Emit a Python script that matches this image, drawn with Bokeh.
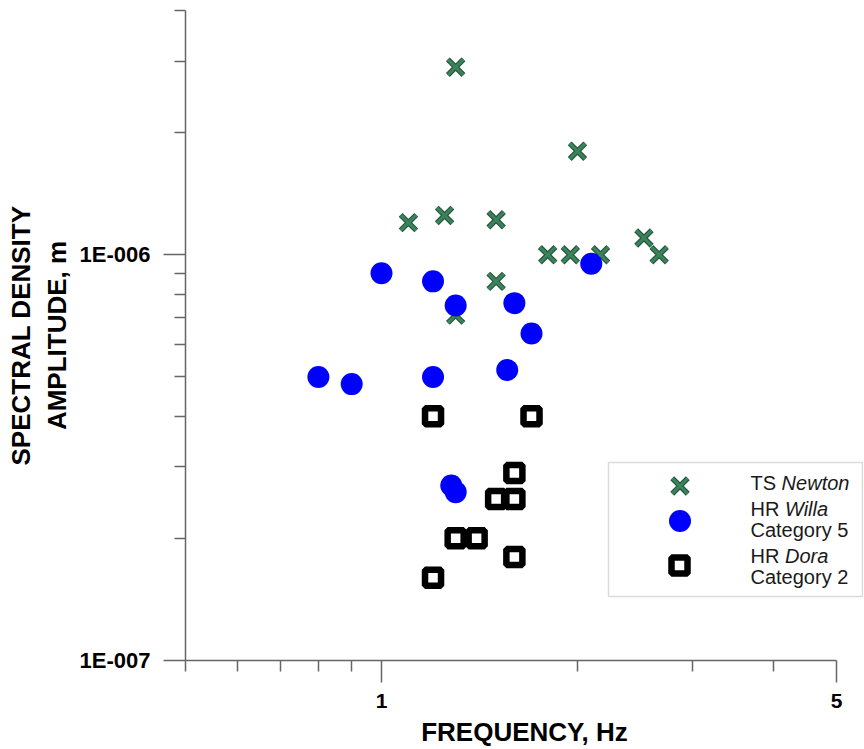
from bokeh.plotting import figure
from bokeh.models import FixedTicker, BoxAnnotation, Legend, LegendItem, Label
from bokeh.embed import file_html
from bokeh.resources import INLINE

# ---- data ----
newton_f = [1.3, 2.0, 1.1, 1.25, 1.5, 1.8, 1.95, 2.17, 2.53, 2.67, 1.5, 1.3]
newton_a = [2.9e-6, 1.8e-6, 1.2e-6, 1.25e-6, 1.22e-6, 1.0e-6, 1.0e-6, 1.0e-6, 1.1e-6, 1.0e-6, 0.86e-6, 0.71e-6]

willa_f = [1.0, 1.2, 1.3, 1.6, 1.7, 2.1, 0.8, 0.9, 1.2, 1.56, 1.28, 1.3]
willa_a = [0.90e-6, 0.86e-6, 0.75e-6, 0.76e-6, 0.64e-6, 0.95e-6, 0.50e-6, 0.48e-6, 0.50e-6, 0.52e-6, 0.27e-6, 0.26e-6]

dora_f = [1.2, 1.7, 1.6, 1.5, 1.6, 1.3, 1.4, 1.6, 1.2]
dora_a = [0.40e-6, 0.40e-6, 0.29e-6, 0.25e-6, 0.25e-6, 0.20e-6, 0.20e-6, 0.18e-6, 0.16e-6]

x_major = [1, 5]
x_minor = [0.5, 0.6, 0.7, 0.8, 0.9, 2, 3, 4]
x_labels = {1: "1", 5: "5"}
x_bounds = (0.5, 5)
y_major = [1e-7, 1e-6]
y_minor = [2e-7, 3e-7, 4e-7, 5e-7, 6e-7, 7e-7, 8e-7, 9e-7, 2e-6, 3e-6, 4e-6]
y_labels = {1e-7: "1E-007", 1e-6: "1E-006"}

FONT = "Liberation Sans"
AXIS_COLOR = "#666666"

p = figure(width=864, height=749, x_axis_type="log", y_axis_type="log",
           x_range=(0.5, 5.50), y_range=(1e-7, 4e-6),
           output_backend="svg", toolbar_location=None,
           min_border_left=185, min_border_right=1, min_border_top=10, min_border_bottom=88)
p.outline_line_color = None
p.grid.visible = False
p.background_fill_color = "white"
p.border_fill_color = "white"

for ax in (p.xaxis[0], p.yaxis[0]):
    ax.axis_line_color = AXIS_COLOR
    ax.axis_line_width = 1.5
    ax.major_tick_line_color = AXIS_COLOR
    ax.major_tick_line_width = 1.5
    ax.minor_tick_line_color = AXIS_COLOR
    ax.minor_tick_line_width = 1.5
    ax.major_tick_in = 0
    ax.major_tick_out = 22
    ax.minor_tick_in = 0
    ax.minor_tick_out = 11
    ax.major_label_text_font = FONT
    ax.major_label_text_font_style = "bold"
    ax.major_label_text_color = "black"
    ax.axis_label_text_font = FONT
    ax.axis_label_text_font_style = "bold"
    ax.axis_label_text_color = "black"
    ax.axis_label_text_font_size = "26px"

p.xaxis.bounds = x_bounds
p.xaxis.ticker = FixedTicker(ticks=x_major, minor_ticks=x_minor)
p.xaxis.major_label_overrides = x_labels
p.xaxis.major_label_text_font_size = "21px"
p.xaxis.major_label_standoff = 11
p.xaxis.axis_label = "FREQUENCY, Hz"
p.xaxis.axis_label_standoff = 6
p.xaxis.axis_label_text_line_height = 0.8

p.yaxis.ticker = FixedTicker(ticks=y_major, minor_ticks=y_minor)
p.yaxis.major_label_overrides = y_labels
p.yaxis.major_label_text_font_size = "22px"
p.yaxis.major_label_standoff = 13
p.yaxis.axis_label = "SPECTRAL DENSITY\nAMPLITUDE, m"
p.yaxis.axis_label_standoff = 5

# ---- data marks ----
r_nx1 = p.scatter(newton_f, newton_a, marker="x", size=22, line_color="#2b5842", line_width=5.5)
r_nx2 = p.scatter(newton_f, newton_a, marker="x", size=22, line_color="#3a835b", line_width=3)
r_w = p.scatter(willa_f, willa_a, marker="circle", size=22, fill_color="#0000ff", line_color=None)
r_d = p.scatter(dora_f, dora_a, marker="square", size=16, fill_color="white",
                line_color="black", line_width=6.5)

# ---- legend (box + per-item glyphs + rich text) ----
box = BoxAnnotation(left=423, right=677, top=198, bottom=64,
                    left_units="screen", right_units="screen",
                    top_units="screen", bottom_units="screen",
                    fill_color="white", fill_alpha=1.0,
                    line_color="#888888", line_width=1.5)
p.add_layout(box)


def single_legend(renderers, gbox, loc):
    leg = Legend(items=[LegendItem(label=" ", renderers=renderers)],
                 location=loc, glyph_width=gbox, glyph_height=gbox,
                 padding=0, margin=0, spacing=0, label_width=0, label_standoff=0,
                 label_height=1, label_text_font_size="1px",
                 border_line_color=None, background_fill_alpha=0.0)
    p.add_layout(leg, "center")


single_legend([r_nx1, r_nx2], 55, (466.5, 147.5))
single_legend([r_w], 55, (466.5, 112.5))
single_legend([r_d], 40, (474, 75))

LEG_FS = 20
TX = 565


def add_text(x, y, txt, style="normal"):
    p.add_layout(Label(x=x, y=y, x_units="screen", y_units="screen", text=txt,
                       text_font=FONT, text_font_size=f"{LEG_FS}px", text_font_style=style,
                       text_baseline="middle", text_align="left", text_color="#1a1a1a"))


w_ts = (0.611 + 0.667 + 0.278) * LEG_FS
w_hr = (0.722 + 0.722 + 0.278) * LEG_FS
add_text(TX, 178, "TS")
add_text(TX + w_ts, 178, "Newton", "italic")
add_text(TX, 152, "HR")
add_text(TX + w_hr, 152, "Willa", "italic")
add_text(TX, 131, "Category 5")
add_text(TX, 105, "HR")
add_text(TX + w_hr, 105, "Dora", "italic")
add_text(TX, 84, "Category 2")

open("out.html", "w").write(file_html(p, INLINE))
